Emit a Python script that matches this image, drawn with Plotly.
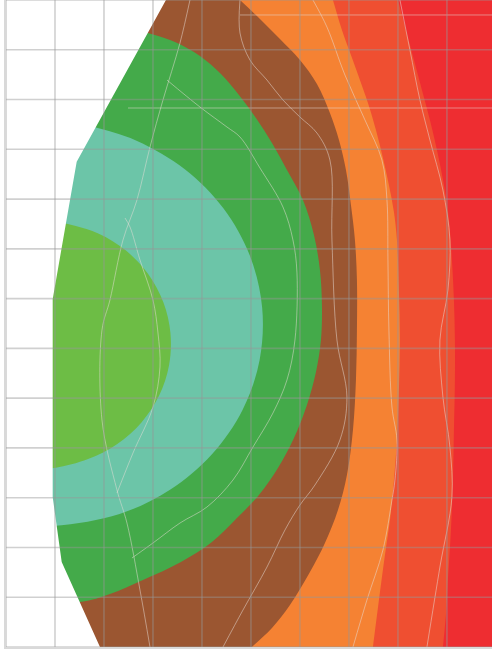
import plotly.graph_objects as go

# ---- axes / grid ----
x_ticks = [0, 1, 2, 3, 4, 5, 6, 7, 8, 9]
y_ticks = [0, 1, 2, 3, 4, 5, 6, 7, 8, 9, 10, 11, 12, 13]
x_max = 9.92
y_max = 13.0

# ---- data domain (convex hull of the sampled surface) ----
hull_x = [3.265, 1.443, 0.953, 0.953, 1.137, 1.918]
hull_y = [13.0, 9.751, 6.987, 3.014, 1.708, 0.0]

# ---- contour level boundaries (inner -> outer) ----
b1_x = [1.242, 1.883, 2.449, 2.902, 3.212, 3.357, 3.328, 3.126, 2.765, 2.271, 1.675, 1.020, 0.706]
b1_y = [8.502, 8.309, 7.965, 7.494, 6.926, 6.302, 5.663, 5.052, 4.512, 4.080, 3.775, 3.600, 3.580]

b2_x = [1.797, 2.676, 3.656, 4.441, 4.977, 5.228, 5.177, 4.828, 4.204, 3.348, 2.318, 0.951]
b2_y = [10.446, 10.168, 9.595, 8.810, 7.865, 6.826, 5.769, 4.763, 3.873, 3.160, 2.674, 2.432]

b3_x = [2.898, 3.449, 3.959, 4.388, 4.755, 5.102, 5.429, 5.735, 6.061, 6.286, 6.408, 6.449, 6.429, 6.327,
        6.143, 5.878, 5.551, 5.163, 4.694, 4.204, 3.571, 2.796, 2.122, 1.510]
b3_y = [12.337, 12.156, 11.875, 11.513, 11.091, 10.629, 10.127, 9.584, 8.981, 8.278, 7.575, 6.872, 6.168, 5.525,
        4.862, 4.199, 3.597, 3.054, 2.572, 2.110, 1.708, 1.346, 1.065, 0.904]

b4_x = [4.776, 5.184, 5.592, 6.0, 6.347, 6.612, 6.796, 6.939, 7.041, 7.122, 7.163, 7.163, 7.143, 7.082,
        6.959, 6.776, 6.510, 6.204, 5.796, 5.429, 5.020]
b4_y = [13.0, 12.618, 12.216, 11.794, 11.312, 10.729, 10.187, 9.584, 8.881, 8.178, 7.374, 6.369, 5.365, 4.360,
        3.456, 2.753, 2.090, 1.507, 0.844, 0.382, 0.0]

b5_x = [6.673, 6.857, 7.041, 7.224, 7.388, 7.551, 7.694, 7.816, 7.918, 7.980, 8.020, 8.041, 8.020, 7.980,
        7.918, 7.837, 7.735, 7.612, 7.490]
b5_y = [13.0, 12.397, 11.895, 11.392, 10.930, 10.388, 9.825, 9.283, 8.740, 8.178, 7.173, 6.168, 5.164, 4.159,
        3.355, 2.552, 1.849, 0.944, 0.0]

b6_x = [8.0, 8.163, 8.327, 8.490, 8.653, 8.796, 8.939, 9.041, 9.102, 9.143, 9.163, 9.163, 9.143, 9.122,
        9.082, 9.020, 8.980, 8.918]
b6_y = [13.0, 12.397, 11.794, 11.191, 10.589, 9.986, 9.283, 8.579, 7.776, 6.972, 6.168, 5.365, 4.360, 3.355,
        2.351, 1.346, 0.643, 0.0]

# ---- faint triangulation seams visible in the rendering ----
s1_x = [6.265, 6.551, 6.918, 7.327, 7.673, 7.776, 7.796, 7.816, 7.878, 7.980, 7.939, 7.878, 7.694, 7.367, 7.082]
s1_y = [13.0, 12.457, 11.493, 10.589, 9.785, 8.981, 7.776, 6.369, 4.822, 4.159, 3.355, 2.954, 1.949, 0.944, 0.0]
s2_x = [8.041, 8.245, 8.449, 8.653, 8.918, 9.061, 9.020, 8.857, 8.918, 9.061, 9.102, 8.857, 8.592]
s2_y = [13.0, 11.995, 10.991, 10.187, 9.182, 8.178, 7.173, 6.168, 5.023, 4.019, 3.014, 1.607, 0.0]
s3_x = [4.776, 4.776, 4.980, 5.327, 5.653, 6.0, 6.347, 6.612, 6.653, 6.755, 6.959, 6.816, 6.306, 6.0, 5.694,
        5.327, 4.837, 4.429]
s3_y = [13.0, 12.337, 11.794, 11.392, 10.991, 10.649, 10.327, 9.785, 8.178, 6.168, 5.023, 4.159, 3.255, 2.853,
        2.351, 1.607, 0.743, 0.0]
s4_x = [3.286, 3.959, 4.510, 4.776, 5.184, 5.653, 5.857, 5.939, 5.898, 5.735, 5.449, 5.041, 4.633, 4.102,
        3.551, 3.0, 2.571]
s4_y = [11.392, 10.850, 10.448, 10.247, 9.624, 8.841, 8.178, 7.515, 6.168, 5.365, 4.702, 4.019, 3.355, 2.813,
        2.491, 2.090, 1.788]
s5_x = [3.755, 3.551, 3.204, 2.939, 2.673, 2.388, 2.122, 1.959, 1.959, 2.265, 2.469, 2.735, 2.939]
s5_y = [13.0, 12.136, 10.991, 10.046, 8.981, 8.178, 6.972, 6.369, 4.561, 3.155, 2.491, 1.145, 0.0]
s6_x = [2.429, 2.531, 2.735, 3.0, 3.102, 3.143, 3.0, 2.592, 2.265]
s6_y = [8.620, 8.439, 7.776, 6.972, 6.309, 5.626, 4.822, 3.898, 3.094]
s7_x = [4.776, 9.92]
s7_y = [12.699, 12.699]
s8_x = [2.49, 9.92]
s8_y = [10.830, 10.830]

band_colors = ["#6dbd45", "#6cc5a8", "#44aa4a", "#9b5631", "#f58233", "#ef4f31", "#ee2d31"]


def extend(xs, ys, dy):
    """continue a boundary past the plot edges along its end directions"""
    k0 = (xs[1] - xs[0]) / (ys[1] - ys[0])
    k1 = (xs[-1] - xs[-2]) / (ys[-1] - ys[-2])
    ex = [xs[0] + k0 * dy] + list(xs) + [xs[-1] - k1 * dy]
    ey = [ys[0] + dy] + list(ys) + [ys[-1] - dy]
    return ex, ey


fig = go.Figure()

# background band (outermost level)
fig.add_trace(go.Scatter(x=[-1, x_max + 1, x_max + 1, -1], y=[-1, -1, y_max + 1, y_max + 1],
                         fill="toself", fillcolor=band_colors[6], mode="lines",
                         line=dict(width=0), hoverinfo="skip", showlegend=False))

# full-height bands
for bx, by, col in [(b6_x, b6_y, band_colors[5]), (b5_x, b5_y, band_colors[4]), (b4_x, b4_y, band_colors[3])]:
    ex, ey = extend(bx, by, 0.6)
    xs = ex + [-2, -2]
    ys = ey + [ey[-1], ey[0]]
    fig.add_trace(go.Scatter(x=xs, y=ys, fill="toself", fillcolor=col, mode="lines",
                             line=dict(width=0, shape="spline", smoothing=1.0),
                             hoverinfo="skip", showlegend=False))

# closed bands touching the hull
for bx, by, col in [(b3_x, b3_y, band_colors[2]), (b2_x, b2_y, band_colors[1]), (b1_x, b1_y, band_colors[0])]:
    xs = bx + [-1, -1]
    ys = by + [by[-1], by[0]]
    fig.add_trace(go.Scatter(x=xs, y=ys, fill="toself", fillcolor=col, mode="lines",
                             line=dict(width=0, shape="spline", smoothing=1.0),
                             hoverinfo="skip", showlegend=False))

# seams
for sx, sy in [(s1_x, s1_y), (s2_x, s2_y), (s3_x, s3_y), (s4_x, s4_y), (s5_x, s5_y), (s6_x, s6_y),
               (s7_x, s7_y), (s8_x, s8_y)]:
    fig.add_trace(go.Scatter(x=sx, y=sy, mode="lines",
                             line=dict(width=1, color="rgba(232,222,216,0.5)", shape="spline", smoothing=1.0),
                             hoverinfo="skip", showlegend=False))

# mask outside the data hull
mx = [hull_x[0]] + hull_x + [hull_x[-1], -1, -1]
my = [y_max + 1] + hull_y + [-1, -1, y_max + 1]
fig.add_trace(go.Scatter(x=mx, y=my, fill="toself", fillcolor="white", mode="lines",
                         line=dict(width=0), hoverinfo="skip", showlegend=False))

# grid drawn above the surface
gx, gy = [], []
for t in x_ticks:
    gx += [t, t, None]
    gy += [0, y_max, None]
for t in y_ticks:
    gx += [0, x_max, None]
    gy += [t, t, None]
fig.add_trace(go.Scatter(x=gx, y=gy, mode="lines",
                         line=dict(width=1.6, color="rgba(150,150,150,0.45)"),
                         hoverinfo="skip", showlegend=False))

fig.update_layout(
    width=492, height=652,
    margin=dict(l=6, r=0, t=0, b=5),
    paper_bgcolor="white", plot_bgcolor="white",
    showlegend=False,
    xaxis=dict(range=[0, x_max], showgrid=False, zeroline=False, showticklabels=False, ticks="",
               showline=True, linecolor="#d9d9d9", linewidth=2),
    yaxis=dict(range=[0, y_max], showgrid=False, zeroline=False, showticklabels=False, ticks="",
               showline=True, linecolor="#d9d9d9", linewidth=2),
)

fig.write_html("out.html", config={"displayModeBar": False},
               post_script="document.body.style.margin='0px';")
